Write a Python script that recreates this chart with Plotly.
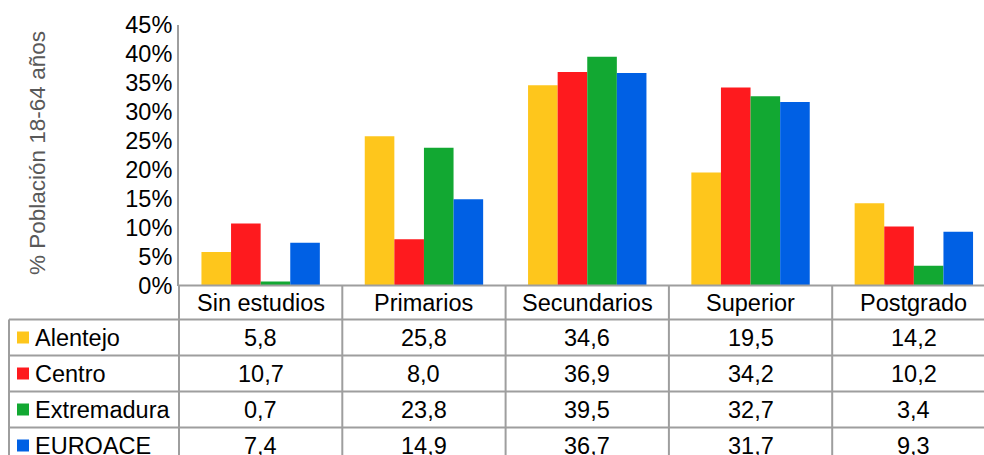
import plotly.graph_objects as go

categories = ["Sin estudios", "Primarios", "Secundarios", "Superior", "Postgrado"]
series_names = ["Alentejo", "Centro", "Extremadura", "EUROACE"]
alentejo = [5.8, 25.8, 34.6, 19.5, 14.2]
centro = [10.7, 8.0, 36.9, 34.2, 10.2]
extremadura = [0.7, 23.8, 39.5, 32.7, 3.4]
euroace = [7.4, 14.9, 36.7, 31.7, 9.3]
series_values = [alentejo, centro, extremadura, euroace]
colors = ["#FEC61C", "#FE1A1E", "#12A832", "#0060E4"]
y_title = "% Población 18-64 años"
tick_vals = [0, 5, 10, 15, 20, 25, 30, 35, 40, 45]

W, H = 984, 455
FONT = "Liberation Sans, Arial, sans-serif"
FS = 23.5
GRID = "#9E9E9E"


def py(px):
    return 1 - px / H


def pxx(px):
    return px / W


fig = go.Figure()
for name, vals, col in zip(series_names, series_values, colors):
    fig.add_trace(go.Bar(x=list(range(len(categories))), y=vals, name=name,
                         marker=dict(color=col, line=dict(width=0)), showlegend=False,
                         hovertemplate=name + ": %{y}<extra></extra>"))

axis_left = 179
col_w = 163.3
n = len(categories)
x_span = (W - axis_left) / col_w
header_top = 285.5
header_h = 34
row_h = 36
table_left = 9

shapes = []
annotations = []
for i in range(n):
    shapes.append(dict(type="line", xref="x", yref="paper", x0=i + 0.5, x1=i + 0.5,
                       y0=0, y1=py(header_top), line=dict(color=GRID, width=2)))
shapes.append(dict(type="line", xref="paper", yref="paper", x0=pxx(axis_left), x1=pxx(axis_left),
                   y0=0, y1=py(header_top), line=dict(color=GRID, width=2)))
shapes.append(dict(type="line", xref="paper", yref="paper", x0=pxx(table_left), x1=pxx(table_left),
                   y0=0, y1=py(header_top + header_h), line=dict(color=GRID, width=2)))
shapes.append(dict(type="line", xref="paper", yref="paper", x0=pxx(axis_left), x1=1,
                   y0=py(header_top), y1=py(header_top), line=dict(color=GRID, width=2)))
for r in range(len(series_names)):
    yy = header_top + header_h + r * row_h
    shapes.append(dict(type="line", xref="paper", yref="paper", x0=pxx(table_left), x1=1,
                       y0=py(yy), y1=py(yy), line=dict(color=GRID, width=2)))

for i, c in enumerate(categories):
    annotations.append(dict(x=i, y=py(header_top + header_h / 2), xref="x", yref="paper",
                            text=c, showarrow=False, xanchor="center", yanchor="middle",
                            font=dict(family=FONT, size=FS, color="#000000")))

for r, (name, vals, col) in enumerate(zip(series_names, series_values, colors)):
    cy = header_top + header_h + r * row_h + row_h / 2
    shapes.append(dict(type="rect", xref="paper", yref="paper", x0=pxx(17), x1=pxx(29),
                       y0=py(cy + 6), y1=py(cy - 6), fillcolor=col, line=dict(width=0)))
    annotations.append(dict(x=pxx(33), y=py(cy), xref="paper", yref="paper", text=name,
                            showarrow=False, xanchor="left", yanchor="middle",
                            font=dict(family=FONT, size=FS, color="#000000")))
    for i, v in enumerate(vals):
        annotations.append(dict(x=i, y=py(cy), xref="x", yref="paper",
                                text=f"{v:.1f}".replace(".", ","), showarrow=False,
                                xanchor="center", yanchor="middle",
                                font=dict(family=FONT, size=FS, color="#000000")))

annotations.append(dict(x=pxx(37), y=py(153), xref="paper", yref="paper", text=y_title,
                        textangle=-90, showarrow=False, xanchor="center", yanchor="middle",
                        font=dict(family=FONT, size=22.5, color="#595959")))

fig.update_layout(
    width=W, height=H,
    margin=dict(l=0, r=0, t=0, b=0, autoexpand=False),
    paper_bgcolor="white", plot_bgcolor="white",
    barmode="group", bargap=0.275, bargroupgap=0,
    xaxis=dict(domain=[pxx(axis_left), 1], range=[-0.5, -0.5 + x_span], automargin=False,
               showticklabels=False, showgrid=False, zeroline=False, showline=False, ticks=""),
    yaxis=dict(domain=[py(header_top), py(25)], range=[0, 45], tickvals=tick_vals, automargin=False,
               ticktext=[f"{t}%" for t in tick_vals], showgrid=False, zeroline=False,
               showline=True, linecolor=GRID, linewidth=2, ticks="",
               tickfont=dict(family=FONT, size=FS, color="#000000")),
    shapes=shapes, annotations=annotations,
)

fig.write_html("out.html", config={"displayModeBar": False},
               post_script="document.body.style.margin='0';document.body.style.overflow='hidden';")
